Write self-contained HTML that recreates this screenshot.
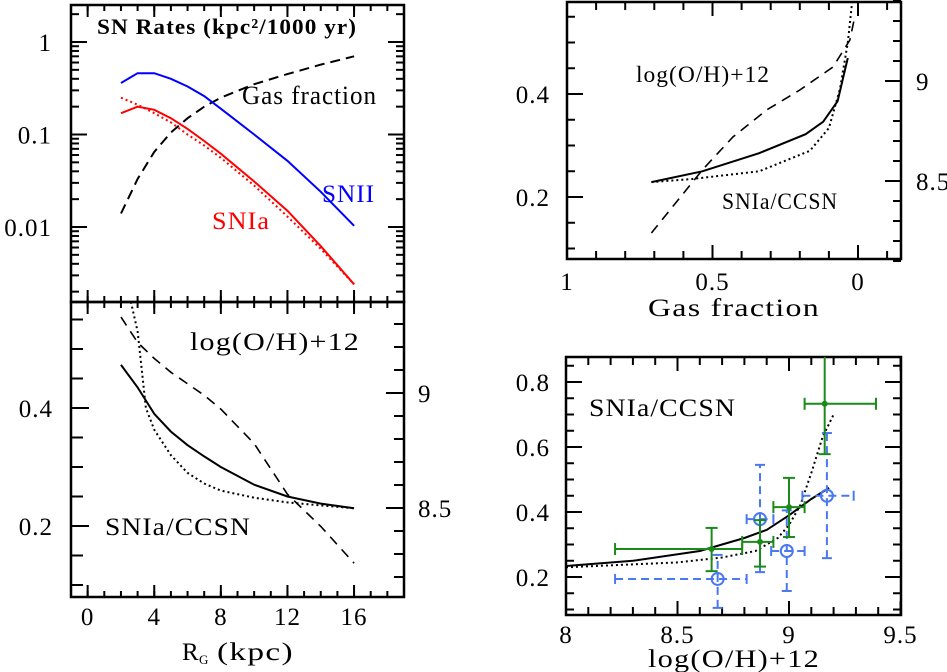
<!DOCTYPE html>
<html><head><meta charset="utf-8">
<style>
html,body{margin:0;padding:0;background:#fff;}
svg{display:block;}
text{font-family:"Liberation Serif",serif;fill:#000;letter-spacing:1px;}
</style></head>
<body>
<svg id="fig" width="947" height="672" viewBox="0 0 947 672" xmlns="http://www.w3.org/2000/svg"></svg>
<script>
// ---------- Panel A (top-left): SN rates vs R_G ----------
const radiusKpc = [2,3,4,5,6,7,8,10,12,14,16];
const rateSNII = [0.36,0.46,0.46,0.40,0.33,0.26,0.19,0.10,0.052,0.024,0.0103];
const rateSNIa = [0.17,0.20,0.185,0.15,0.115,0.085,0.062,0.031,0.015,0.0062,0.0024];
const rateSNIaAlt = [0.25,0.21,0.17,0.135,0.10,0.076,0.056,0.028,0.013,0.0058,0.0024];
const gasFraction = [0.014,0.033,0.065,0.105,0.15,0.2,0.25,0.35,0.45,0.57,0.7];
// ---------- Panel B (bottom-left): ratio vs R_G ----------
const ratioSolidR = [0.473,0.435,0.39,0.36,0.337,0.318,0.30,0.27,0.25,0.238,0.23];
const radiusDotted = [2.6,3,3.5,4,5,6,7,8,10,12,14,16];
const ratioDottedR = [0.58,0.53,0.40,0.363,0.32,0.29,0.272,0.26,0.248,0.24,0.235,0.23];
const ohVsR = [9.33,9.22,9.15,9.09,9.04,8.99,8.93,8.78,8.56,8.42,8.26];
// ---------- Panel C (top-right): vs gas fraction ----------
const gfSolid = [0.71,0.535,0.34,0.18,0.12,0.07,0.035];
const ratioSolidGf = [0.229,0.25,0.285,0.322,0.346,0.386,0.47];
const gfDotted = [0.71,0.57,0.34,0.165,0.10,0.062,0.035,0.02];
const ratioDottedGf = [0.229,0.235,0.25,0.29,0.334,0.41,0.50,0.58];
const gfDashed = [0.71,0.535,0.43,0.314,0.2,0.086,0.028,0.01];
const ohVsGf = [8.24,8.555,8.72,8.855,8.955,9.07,9.205,9.33];
// ---------- Panel D (bottom-right): ratio vs metallicity ----------
const ohSolid = [8.0,8.3,8.6,8.8,8.9,9.0,9.1,9.18];
const ratioSolidOh = [0.234,0.25,0.28,0.32,0.345,0.39,0.44,0.474];
const ohDotted = [8.0,8.5,8.7,8.85,8.95,9.0,9.05,9.1,9.15,9.2];
const ratioDottedOh = [0.23,0.245,0.26,0.28,0.32,0.36,0.42,0.52,0.63,0.70];
const greenX = [8.653,8.87,9.0,9.16];
const greenY = [0.286,0.308,0.415,0.733];
const greenXlo = [8.22,8.79,8.93,9.07];
const greenXhi = [8.79,8.93,9.07,9.39];
const greenYlo = [0.218,0.232,0.323,0.578];
const greenYhi = [0.351,0.375,0.505,0.95];
const blueX = [8.68,8.87,8.99,9.17];
const blueY = [0.194,0.378,0.28,0.45];
const blueXlo = [8.22,8.81,8.92,9.06];
const blueXhi = [8.81,8.93,9.07,9.29];
const blueYlo = [0.105,0.215,0.157,0.258];
const blueYhi = [0.268,0.545,0.405,0.643];

const svg = document.getElementById('fig');
const NS = 'http://www.w3.org/2000/svg';
function mk(tag, attrs, parent){
  const e = document.createElementNS(NS, tag);
  for (const k in attrs) e.setAttribute(k, attrs[k]);
  (parent||svg).appendChild(e);
  return e;
}
function lin(d0,d1,r0,r1){return v=>r0+(v-d0)*(r1-r0)/(d1-d0);}
function txt(x,y,s,size,anchor,parent,extra){
  const t = mk('text',Object.assign({x:x,y:y,'font-size':size,'text-anchor':anchor||'start'},extra||{}),parent);
  t.textContent = s; return t;
}
function poly(xs,ys,sx,sy,style,g,name){
  const pts = xs.map((v,i)=>sx(v).toFixed(1)+','+sy(ys[i]).toFixed(1)).join(' ');
  const p = mk('polyline',Object.assign({points:pts,fill:'none','stroke-width':2},style),g);
  
  
  return p;
}
function ticksX(g,vals,sx,y0,y1,len){
  vals.forEach(v=>{const x=sx(v);
    mk('line',{x1:x,x2:x,y1:y1,y2:y1-len,stroke:'#000','stroke-width':2},g);
    mk('line',{x1:x,x2:x,y1:y0,y2:y0+len,stroke:'#000','stroke-width':2},g);});
}
function ticksY(g,vals,sy,x0,x1,len,sides){
  vals.forEach(v=>{const y=sy(v);
    if(sides!=='right') mk('line',{x1:x0,x2:x0+len,y1:y,y2:y,stroke:'#000','stroke-width':2},g);
    if(sides!=='left') mk('line',{x1:x1,x2:x1-len,y1:y,y2:y,stroke:'#000','stroke-width':2},g);});
}
function range(a,b,s){const r=[];for(let v=a;v<=b+1e-9;v+=s)r.push(+v.toFixed(4));return r;}
function frame(g,x0,y0,x1,y1){mk('rect',{x:x0,y:y0,width:x1-x0,height:y1-y0,fill:'none',stroke:'#000','stroke-width':2.5},g);}
const SG={lengthAdjust:'spacingAndGlyphs'};

// ===== Panel A =====
(function(){
  const g = mk('g',{});  
  const X0=71,X1=404,Y0=5,Y1=302;
  const sx = lin(-1,19,X0,X1);
  const sy = v=>42+(-Math.log10(v))*92.5;
  ticksX(g,range(-1,19,1),sx,Y0,Y1,6); ticksX(g,[0,4,8,12,16],sx,Y0,Y1,12);
  const minor=[];[0.001,0.01,0.1,1].forEach(d=>{for(let k=2;k<=9;k++){const v=d*k;if(sy(v)>Y0&&sy(v)<Y1)minor.push(v);}});
  ticksY(g,minor,sy,X0,X1,8); ticksY(g,[0.01,0.1,1],sy,X0,X1,16);
  frame(g,X0,Y0,X1,Y1);
  [['1',1],['0.1',0.1],['0.01',0.01]].forEach(([s,v])=>{const t=txt(52,sy(v)+9,s,25,'end',g);});
  poly(radiusKpc,gasFraction,sx,sy,{stroke:'#000','stroke-dasharray':'10,6'},g,'gas-fraction-line');
  poly(radiusKpc,rateSNII,sx,sy,{stroke:'#0000ff'},g,'snii-rate-line');
  poly(radiusKpc,rateSNIaAlt,sx,sy,{stroke:'#ff0000','stroke-dasharray':'2,3'},g,'snia-rate-dotted-line');
  poly(radiusKpc,rateSNIa,sx,sy,{stroke:'#ff0000'},g,'snia-rate-line');
  let t=txt(97,34,'SN Rates (kpc²/1000 yr)',22,'start',g,Object.assign({'font-family':'Liberation Sans','font-weight':'bold',textLength:260,'letter-spacing':0},SG));
   
  t=txt(242,104,'Gas fraction',26,'start',g,Object.assign({'font-family':'Liberation Sans',textLength:135,'letter-spacing':0},SG));
   
  t=txt(322,202,'SNII',25,'start',g,Object.assign({textLength:53},SG)); t.style.fill='#0000ff';
   
  t=txt(212,229,'SNIa',25,'start',g,Object.assign({textLength:58},SG)); t.style.fill='#ff0000';
   
})();

// ===== Panel B =====
(function(){
  const g = mk('g',{});  
  const X0=71,X1=404,Y0=302,Y1=597;
  const sx = lin(-1,19,X0,X1);
  const sy = lin(0.4,0.2,408,526);
  const sy2 = lin(9,8.5,393,508);
  ticksX(g,range(-1,19,1),sx,Y0,Y1,6); ticksX(g,[0,4,8,12,16],sx,Y0,Y1,12);
  ticksY(g,range(0.1,0.55,0.05).filter(v=>Math.abs(v-0.2)>1e-6&&Math.abs(v-0.4)>1e-6),sy,X0,X1,12,'left');
  ticksY(g,[0.2,0.4],sy,X0,X1,18,'left');
  ticksY(g,range(8.2,9.3,0.1),sy2,X0,X1,10,'right');
  ticksY(g,[8.5,9],sy2,X0,X1,18,'right');
  frame(g,X0,Y0,X1,Y1);
  [['0.4',0.4],['0.2',0.2]].forEach(([s,v])=>{const t=txt(53,sy(v)+9,s,25,'end',g);});
  [['9',9],['8.5',8.5]].forEach(([s,v])=>{const t=txt(418,sy2(v)+9,s,25,'start',g);});
  [0,4,8,12,16].forEach(v=>{const t=txt(sx(v),625,String(v),25,'middle',g);});
  poly(radiusKpc,ohVsR,sx,sy2,{stroke:'#000','stroke-width':1.6,'stroke-dasharray':'10,7'},g,'metallicity-line');
  poly(radiusDotted,ratioDottedR,sx,sy,{stroke:'#000','stroke-dasharray':'2,3'},g,'ratio-dotted-line');
  poly(radiusKpc,ratioSolidR,sx,sy,{stroke:'#000'},g,'ratio-line');
  let t=txt(190,350,'log(O/H)+12',25,'start',g,Object.assign({textLength:170},SG));  
  t=txt(105,535,'SNIa/CCSN',25,'start',g,Object.assign({textLength:146},SG));  
  t=txt(182,660,'R',25,'start',g);  
  txt(199,664,'G',13,'start',g);
  txt(217,660,'(kpc)',25,'start',g,Object.assign({textLength:77},SG));
})();

// ===== Panel C =====
(function(){
  const g = mk('g',{});  
  const X0=567,X1=901,Y0=2,Y1=259;
  const sx = lin(1,0,567,858);
  const sy = lin(0.4,0.2,94,197);
  const sy2 = lin(9,8.5,81,181);
  ticksX(g,range(-0.1,1,0.1),sx,Y0,Y1,8); ticksX(g,[0,0.5,1],sx,Y0,Y1,14);
  ticksY(g,range(0.1,0.55,0.05),sy,X0,X1,8,'left'); ticksY(g,[0.2,0.4],sy,X0,X1,16,'left');
  ticksY(g,range(8.1,9.5,0.1),sy2,X0,X1,8,'right'); ticksY(g,[8.5,9],sy2,X0,X1,16,'right');
  frame(g,X0,Y0,X1,Y1);
  [['0.4',0.4],['0.2',0.2]].forEach(([s,v])=>{const t=txt(550,sy(v)+9,s,25,'end',g);});
  [['9',9],['8.5',8.5]].forEach(([s,v])=>{const t=txt(916,sy2(v)+9,s,25,'start',g);});
  [['1',1],['0.5',0.5],['0',0]].forEach(([s,v])=>{const t=txt(sx(v),290,s,25,'middle',g);});
  poly(gfDashed,ohVsGf,sx,sy2,{stroke:'#000','stroke-width':1.6,'stroke-dasharray':'10,7'},g,'metallicity-line');
  poly(gfDotted,ratioDottedGf,sx,sy,{stroke:'#000','stroke-dasharray':'2,3'},g,'ratio-dotted-line');
  poly(gfSolid,ratioSolidGf,sx,sy,{stroke:'#000'},g,'ratio-line');
  let t=txt(636,82,'log(O/H)+12',23,'start',g,Object.assign({textLength:134},SG));  
  t=txt(722,209,'SNIa/CCSN',23,'start',g,Object.assign({textLength:116},SG));  
  t=txt(734,316,'Gas fraction',25,'middle',g,Object.assign({textLength:172},SG));  
})();

// ===== Panel D =====
(function(){
  const g = mk('g',{});  
  const X0=566,X1=901,Y0=357,Y1=615;
  const sx = lin(8,9,566,789);
  const sy = lin(0.8,0.2,382,577);
  ticksX(g,range(8,9.5,0.1),sx,Y0,Y1,8); ticksX(g,[8,8.5,9,9.5],sx,Y0,Y1,14);
  ticksY(g,range(0.1,0.85,0.05),sy,X0,X1,8); ticksY(g,[0.2,0.4,0.6,0.8],sy,X0,X1,16);
  frame(g,X0,Y0,X1,Y1);
  [0.8,0.6,0.4,0.2].forEach(v=>{const t=txt(550,sy(v)+9,v.toFixed(1),25,'end',g);});
  [['8',8],['8.5',8.5],['9',9],['9.5',9.5]].forEach(([s,v])=>{const t=txt(sx(v),643,s,25,'middle',g);});
  const clip = mk('clipPath',{id:'clipD'},g); mk('rect',{x:X0,y:Y0,width:X1-X0,height:Y1-Y0},clip);
  const inner = mk('g',{'clip-path':'url(#clipD)'},g);
  poly(ohDotted,ratioDottedOh,sx,sy,{stroke:'#000','stroke-dasharray':'2,3'},inner,'ratio-dotted-line');
  poly(ohSolid,ratioSolidOh,sx,sy,{stroke:'#000'},inner,'ratio-line');
  const blue='#4a78f0', green='#1a8a1a';
  blueX.forEach((v,i)=>{
    const cx=sx(v), cy=sy(blueY[i]);
    const e = mk('g',{},inner);
    
    
    const st={stroke:blue,'stroke-width':2,'stroke-dasharray':'8,5'};
    mk('line',Object.assign({x1:sx(blueXlo[i]),x2:sx(blueXhi[i]),y1:cy,y2:cy},st),e);
    mk('line',Object.assign({x1:cx,x2:cx,y1:sy(blueYlo[i]),y2:sy(blueYhi[i])},st),e);
    [sx(blueXlo[i]),sx(blueXhi[i])].forEach(x=>mk('line',{x1:x,x2:x,y1:cy-5,y2:cy+5,stroke:blue,'stroke-width':2},e));
    [sy(blueYlo[i]),sy(blueYhi[i])].forEach(y=>mk('line',{x1:cx-5,x2:cx+5,y1:y,y2:y,stroke:blue,'stroke-width':2},e));
    mk('circle',{cx:cx,cy:cy,r:6,fill:'none',stroke:blue,'stroke-width':2},e);
  });
  greenX.forEach((v,i)=>{
    const cx=sx(v), cy=sy(greenY[i]);
    const e = mk('g',{},inner);
    
    
    const st={stroke:green,'stroke-width':2};
    mk('line',Object.assign({x1:sx(greenXlo[i]),x2:sx(greenXhi[i]),y1:cy,y2:cy},st),e);
    mk('line',Object.assign({x1:cx,x2:cx,y1:sy(greenYlo[i]),y2:sy(greenYhi[i])},st),e);
    [sx(greenXlo[i]),sx(greenXhi[i])].forEach(x=>mk('line',Object.assign({x1:x,x2:x,y1:cy-6,y2:cy+6},st),e));
    [sy(greenYlo[i]),sy(greenYhi[i])].forEach(y=>mk('line',Object.assign({x1:cx-6,x2:cx+6,y1:y,y2:y},st),e));
    mk('circle',{cx:cx,cy:cy,r:3,fill:green},e);
  });
  let t=txt(589,416,'SNIa/CCSN',25,'start',g,Object.assign({textLength:147},SG));  
  t=txt(734,667,'log(O/H)+12',25,'middle',g,Object.assign({textLength:172},SG));  
})();
</script>
</body></html>
